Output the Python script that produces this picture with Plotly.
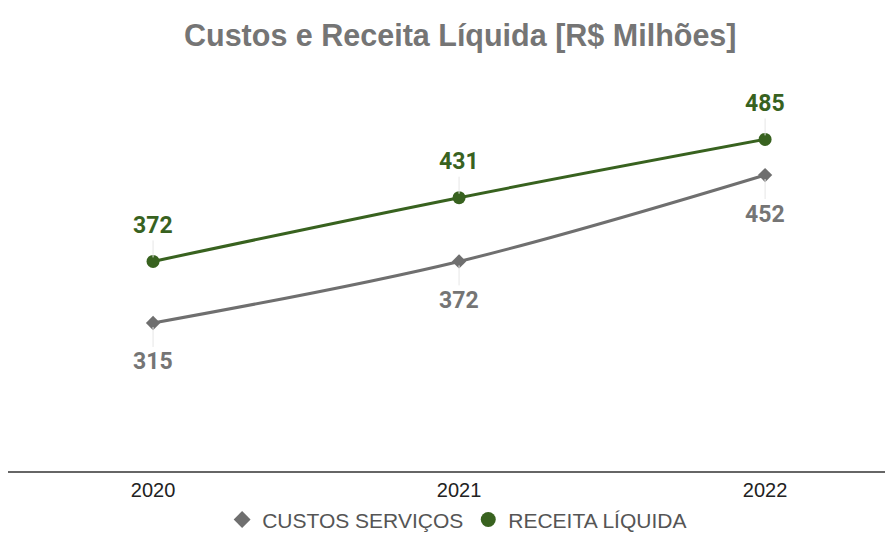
import plotly.graph_objects as go

years = ["2020", "2021", "2022"]
custos = [315, 372, 452]
receita = [372, 431, 485]
x_idx = [0, 1, 2]

GREEN = "#38621f"
GREY = "#6f6f6f"

fig = go.Figure()
fig.add_trace(go.Scatter(
    x=x_idx, y=custos, name="CUSTOS SERVIÇOS", mode="lines+markers",
    line=dict(color=GREY, width=3, shape="spline"),
    marker=dict(symbol="diamond", size=11, color=GREY),
    showlegend=False,
))
fig.add_trace(go.Scatter(
    x=x_idx, y=receita, name="RECEITA LÍQUIDA", mode="lines+markers",
    line=dict(color=GREEN, width=3, shape="spline"),
    marker=dict(symbol="circle", size=13, color=GREEN),
    showlegend=False,
))
# legend entries (markers only, as in the reference)
fig.add_trace(go.Scatter(
    x=[None], y=[None], name="CUSTOS SERVIÇOS", mode="markers",
    marker=dict(symbol="diamond", size=13, color=GREY),
))
fig.add_trace(go.Scatter(
    x=[None], y=[None], name="RECEITA LÍQUIDA", mode="markers",
    marker=dict(symbol="circle", size=15, color=GREEN),
))

annotations = []
for xi, v in zip(x_idx, receita):
    annotations.append(dict(
        x=xi, y=v, xref="x", yref="y", text=f"<b>{v}</b>",
        showarrow=True, arrowhead=0, arrowwidth=1, arrowcolor="#e6e6e6",
        ax=0, ay=-36, standoff=4,
        font=dict(family="Roboto", size=23, color=GREEN),
    ))
for xi, v in zip(x_idx, custos):
    annotations.append(dict(
        x=xi, y=v, xref="x", yref="y", text=f"<b>{v}</b>",
        showarrow=True, arrowhead=0, arrowwidth=1, arrowcolor="#e6e6e6",
        ax=0, ay=39, standoff=4,
        font=dict(family="Roboto", size=23, color="#757575"),
    ))

fig.update_layout(
    width=885, height=528,
    paper_bgcolor="white", plot_bgcolor="white",
    margin=dict(l=0, r=0, t=72, b=64, autoexpand=False),
    title=dict(
        text="<b>Custos e Receita Líquida [R$ Milhões]</b>",
        x=0.511, xanchor="center", y=0.949, yanchor="middle",
        font=dict(family="Liberation Sans, Arial", size=30.5, color="#757575"),
    ),
    xaxis=dict(
        range=[-0.474, 2.418], tickmode="array", tickvals=x_idx, ticktext=years,
        showgrid=False, zeroline=False, showline=False, ticks="",
        ticklabelstandoff=4,
        tickfont=dict(family="Liberation Sans, Arial", size=20, color="#222222"),
    ),
    yaxis=dict(
        range=[177, 540], showgrid=False, zeroline=False, showline=False,
        showticklabels=False, ticks="",
    ),
    shapes=[dict(type="line", xref="paper", yref="paper", x0=0, x1=1, y0=0, y1=0,
                 line=dict(color="#333333", width=1.5))],
    legend=dict(
        orientation="h", x=0.5075, xanchor="center", y=-0.122, yanchor="middle",
        font=dict(family="Liberation Sans, Arial", size=21, color="#555555"),
        itemwidth=30,
    ),
    annotations=annotations,
)

fig.write_html("out.html")
